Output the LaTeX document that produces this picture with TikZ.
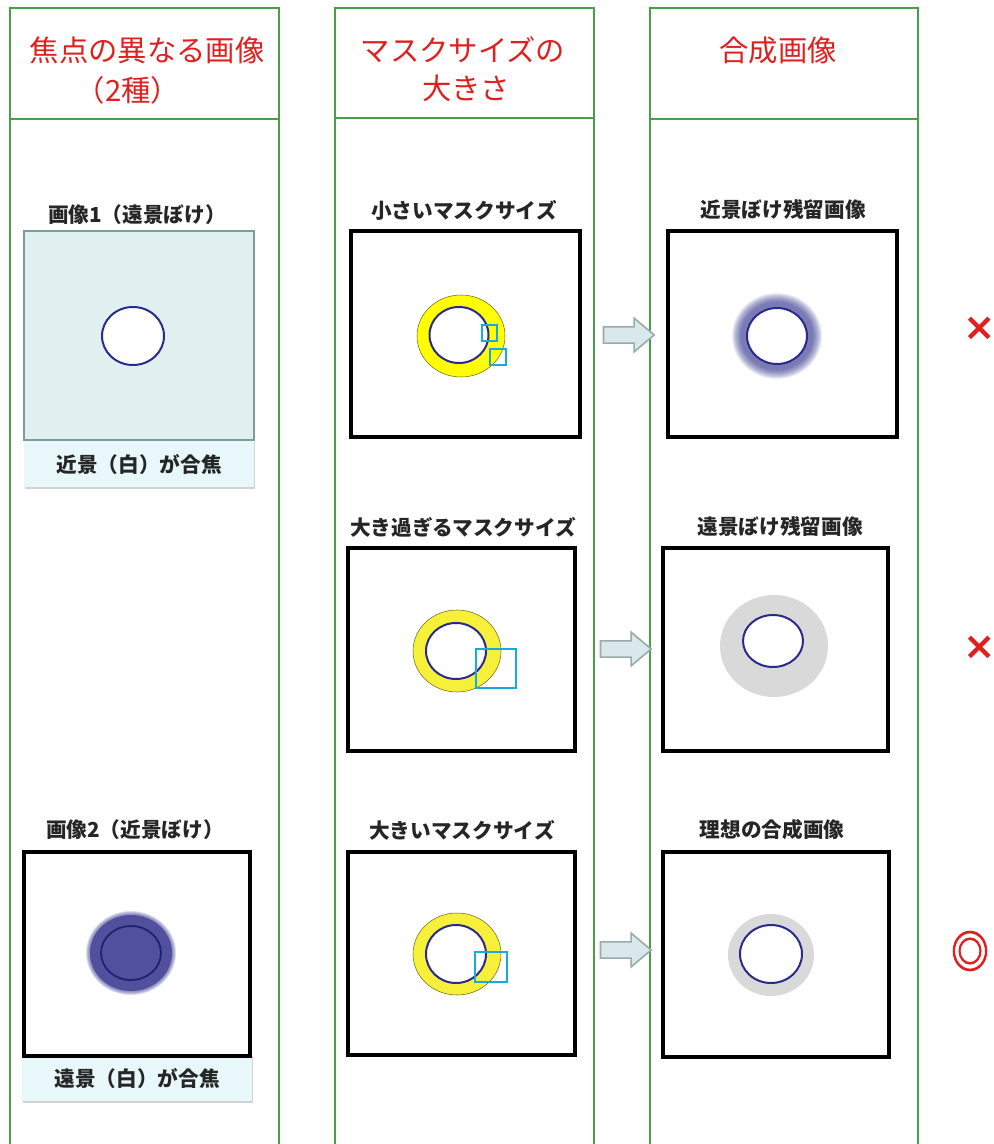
\documentclass[tikz,border=0pt]{standalone}
\usepackage{fontspec}
\newfontfamily\jpfont{Noto Sans CJK JP}
\newfontfamily\jpbold[FakeBold=2.5]{Noto Sans CJK JP}
\newfontfamily\djfont{DejaVu Sans}
\usetikzlibrary{shapes.arrows,shadows}
\definecolor{grn}{HTML}{4A9E4A}
\definecolor{hdr}{HTML}{E0201E}
\definecolor{navy}{HTML}{2A2A8C}
\definecolor{cy}{HTML}{1AA8E0}
\definecolor{ylw}{HTML}{F6F03A}
\definecolor{ylwb}{HTML}{FFFF00}
\definecolor{teal1}{HTML}{E0F0F0}
\definecolor{teal2}{HTML}{7E9C9C}
\definecolor{capf}{HTML}{E8F8FA}
\definecolor{blurb}{HTML}{50509E}
\definecolor{gdisk}{HTML}{D9D9D9}
\definecolor{arf}{HTML}{D8E8EC}
\definecolor{ard}{HTML}{9AABAA}
\definecolor{lbc}{HTML}{262626}
\begin{document}
\begin{tikzpicture}[x=0.75pt,y=-0.75pt,
  colline/.style={draw=grn, line width=0.9pt},
  hdrtext/.style={text=hdr, font=\jpfont\fontsize{22}{26}\selectfont, inner sep=0},
  lbl/.style={text=lbc, font=\jpfont\bfseries\fontsize{15.5}{18}\selectfont, inner sep=0},
  imgframe/.style={draw=black, line width=2.3pt},
  innerc/.style={draw=navy, line width=1.5pt, fill=white},
  ringc/.style={draw=black!55!ylw, line width=0.4pt},
  maskbox/.style={draw=cy, line width=1.8pt},
  blk/.style={single arrow, draw=ard, fill=arf, line width=1.2pt, inner sep=5.5pt,
     single arrow head extend=6.5pt, single arrow tip angle=80, minimum height=38pt},
  capbox/.style={fill=capf, draw=none, drop shadow={opacity=0.35, shadow xshift=0.6pt, shadow yshift=-1.2pt},
     minimum width=172.5pt, minimum height=35pt, inner sep=0,
     font=\jpfont\bfseries\fontsize{15.5}{18}\selectfont, text=lbc},
  okmark/.style={text=hdr, inner sep=0}
]
\path[use as bounding box, fill=white] (0,0) rectangle (994,1144);

% columns
\draw[colline] (10,1150) -- (10,8) -- (279,8) -- (279,1150);
\draw[colline] (10,119) -- (279,119);
\draw[colline] (335,1150) -- (335,8) -- (594,8) -- (594,1150);
\draw[colline] (335,118) -- (594,118);
\draw[colline] (650,1150) -- (650,8) -- (918,8) -- (918,1150);
\draw[colline] (650,119) -- (918,119);

% headers
\node[hdrtext] (h1a) at (147,50) {焦点の異なる画像};
\node[hdrtext] (h1b) at (128,90) {（2種）};
\node[hdrtext] (h2a) at (463,50) {マスクサイズの};
\node[hdrtext] (h2b) at (466,88) {大きさ};
\node[hdrtext] (h3a) at (778,50) {合成画像};

% ---------- column 1 ----------
\node[lbl] (l11) at (137,215) {画像1（遠景ぼけ）};
\draw[fill=teal1, draw=teal2, line width=1.6pt] (24,231) rectangle (254,440);
\draw[innerc] (133,336) ellipse [x radius=31, y radius=29];
\node[capbox] (c11) at (139,464) {近景（白）が合焦};

\node[lbl] (l13) at (135,830) {画像2（近景ぼけ）};
\node[capbox] (c13) at (137,1078) {遠景（白）が合焦};
\draw[imgframe, fill=white] (24,852) rectangle (250,1056);
\foreach \k in {0,...,5}
  \fill[blurb, opacity=0.18] (131,953) ellipse [x radius={41+\k*0.8}, y radius={38+\k*0.8}];
\fill[blurb] (131,953) ellipse [x radius=41, y radius=38];
\draw[navy!80!black, line width=1.4pt] (131,953) ellipse [x radius=30, y radius=27];

% ---------- column 2 ----------
\node[lbl] (l21) at (464,210) {小さいマスクサイズ};
\draw[imgframe, fill=white] (351,231) rectangle (580,437);
\draw[ringc, fill=ylwb] (461,336) ellipse [x radius=44, y radius=41];
\draw[innerc] (459,335) ellipse [x radius=29.5, y radius=28];
\draw[maskbox] (482,325) rectangle (497,341);
\draw[maskbox] (490,349) rectangle (506,365);

\node[lbl] (l22) at (463,527) {大き過ぎるマスクサイズ};
\draw[imgframe, fill=white] (348,548) rectangle (575,751);
\draw[ringc, fill=ylw] (457,651) ellipse [x radius=44, y radius=41];
\draw[innerc] (456,651) ellipse [x radius=30, y radius=28];
\draw[maskbox] (476,649) rectangle (516,688);

\node[lbl] (l23) at (462,830) {大きいマスクサイズ};
\draw[imgframe, fill=white] (348,852) rectangle (575,1055);
\draw[ringc, fill=ylw] (457,954) ellipse [x radius=44, y radius=41];
\draw[innerc] (456,954) ellipse [x radius=30, y radius=29];
\draw[maskbox] (475,952) rectangle (507,982);

% arrows
\node[blk] (a1) at (624,335) {};
\node[blk] (a2) at (621,649) {};
\node[blk] (a3) at (621,950) {};

% ---------- column 3 ----------
\node[lbl] (l31) at (783,210) {近景ぼけ残留画像};
\draw[imgframe, fill=white] (668,231) rectangle (897,437);
\foreach \k in {0,...,9}
  \fill[navy, opacity=0.09] (777,336) ellipse [x radius={36+\k*1.0}, y radius={34+\k*1.0}];
\draw[innerc] (777,336) ellipse [x radius=30, y radius=28];

\node[lbl] (l32) at (780,527) {遠景ぼけ残留画像};
\draw[imgframe, fill=white] (663,548) rectangle (888,751);
\fill[gdisk] (774,646) ellipse [x radius=54, y radius=51];
\draw[innerc] (773,641) ellipse [x radius=30, y radius=26];

\node[lbl] (l33) at (772,830) {理想の合成画像};
\draw[imgframe, fill=white] (663,852) rectangle (889,1057);
\fill[gdisk] (771,955) ellipse [x radius=43, y radius=41];
\draw[innerc] (771,954) ellipse [x radius=31, y radius=29];

% marks
\node[okmark, font=\djfont\bfseries\fontsize{29}{30}\selectfont] (m1) at (980,329) {×};
\node[okmark, font=\djfont\bfseries\fontsize{29}{30}\selectfont] (m2) at (980,648) {×};
\node[okmark, font=\jpbold\fontsize{33}{34}\selectfont, xscale=0.85] (m3) at (970,951) {◎};
\end{tikzpicture}
\end{document}
